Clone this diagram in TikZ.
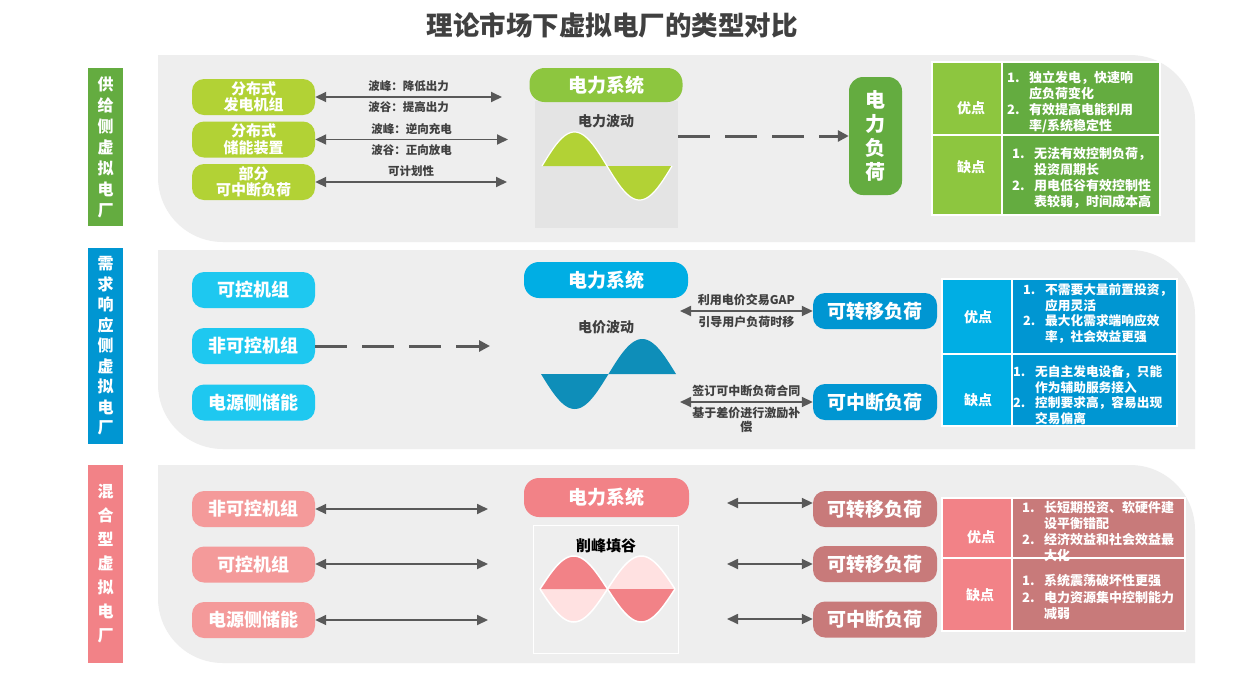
\documentclass[tikz,border=0pt]{standalone}
\usepackage{fontspec}
\setmainfont{Noto Sans CJK SC}
\usepackage{tikz}
\usetikzlibrary{arrows.meta}
\definecolor{GA}{RGB}{178,210,53}
\definecolor{GB}{RGB}{141,198,63}
\definecolor{GC}{RGB}{100,172,64}
\definecolor{BA}{RGB}{30,200,240}
\definecolor{BB}{RGB}{0,174,228}
\definecolor{BC}{RGB}{0,150,210}
\definecolor{BW}{RGB}{14,142,185}
\definecolor{PA}{RGB}{244,154,154}
\definecolor{PB}{RGB}{242,130,135}
\definecolor{PC}{RGB}{200,122,122}
\definecolor{PL}{RGB}{255,225,225}
\definecolor{panelgray}{RGB}{238,238,238}
\definecolor{boxgray}{RGB}{228,228,228}
\definecolor{arrgray}{RGB}{89,89,89}
\definecolor{txtgray}{RGB}{64,64,64}
\newcommand{\li}[1]{\makebox[22pt][l]{#1}}
\newcommand{\lii}{\hspace*{22pt}}
\newcommand{\panel}[2]{\fill[panelgray] (158,#1) -- (1130,#1) .. controls (1166,#1) and (1195,{#1+29}) .. (1195,{#1+65}) -- (1195,#2) -- (223,#2) .. controls (187,#2) and (158,{#2-29}) .. (158,{#2-65}) -- cycle;}
\newcommand{\sinefill}[5]{\fill[#5] (#1,#3) -- plot[domain=0:360,samples=73] ({#1+\x/360*#2},{#3-(#4)*sin(\x)}) -- cycle;}
\newcommand{\sinedraw}[5]{\draw[#5] plot[domain=0:360,samples=73] ({#1+\x/360*#2},{#3-(#4)*sin(\x)});}

\begin{document}
\begin{tikzpicture}[x=1pt,y=-1pt,
  pill/.style={rounded corners=12pt,minimum width=123pt,minimum height=36pt,inner sep=0pt,align=center,text=white,font=\bfseries\fontsize{18}{20}\selectfont},
  pillsm/.style={pill,font=\bfseries\fontsize{15}{16.5}\selectfont},
  loadpill/.style={pill,minimum width=124pt,font=\bfseries\fontsize{19}{21}\selectfont},
  sys/.style={rounded corners=15pt,minimum height=36pt,inner sep=0pt,text=white,font=\bfseries\fontsize{19}{21}\selectfont},
  sidebar/.style={minimum width=35pt,inner sep=0pt,align=center,text=white,font=\bfseries\fontsize{16}{21}\selectfont},
  lbl/.style={text=txtgray,font=\bfseries\fontsize{11.5}{14}\selectfont,inner sep=4pt},
  wavelbl/.style={text=txtgray,font=\bfseries\fontsize{14}{16}\selectfont},
  dblarr/.style={<->,>={Triangle[length=11pt,width=10pt]},line width=1.8pt,draw=arrgray},
  dasharr/.style={->,>={Triangle[length=11pt,width=11pt]},line width=3pt,draw=arrgray,dash pattern=on 32pt off 15pt},
  cell/.style={draw=white,line width=1.5pt},
  head/.style={text=white,font=\bfseries\fontsize{14}{16}\selectfont},
  items/.style={anchor=west,align=left,inner sep=0pt,text=white,font=\bfseries\fontsize{13}{16}\selectfont}]
\useasboundingbox (0,0) rectangle (1236,673);
\fill[white] (0,0) rectangle (1236,673);
\node[text=txtgray,font=\bfseries\fontsize{26.5}{30}\selectfont] (title) at (612,25) {理论市场下虚拟电厂的类型对比};
\panel{55}{242}
\panel{250}{449}
\panel{465}{663}
\node[sidebar,fill=GC,minimum height=158pt] (supply) at (105.5,147) {供\\给\\侧\\虚\\拟\\电\\厂};
\node[sidebar,fill=BC,minimum height=196pt,font=\bfseries\fontsize{16}{20.5}\selectfont] (demand) at (105.5,346) {需\\求\\响\\应\\侧\\虚\\拟\\电\\厂};
\node[sidebar,fill=PB,minimum height=198pt,font=\bfseries\fontsize{16}{24}\selectfont] (mixed) at (105.5,564) {混\\合\\型\\虚\\拟\\电\\厂};

\node[pillsm,fill=GA] (dgen) at (253.5,97) {分布式\\发电机组};
\node[pillsm,fill=GA] (dsto) at (253.5,139.5) {分布式\\储能装置};
\node[pillsm,fill=GA] (dcut) at (253.5,182) {部分\\可中断负荷};
\coordinate (dgenR) at (502,97);
\coordinate (dstoR) at (508,139.5);
\coordinate (dcutR) at (507,182);
\draw[dblarr] (dgen) -- node[lbl,above]{波峰：降低出力} node[lbl,below]{波谷：提高出力} (dgenR);
\draw[dblarr] (dsto) -- node[lbl,above]{波峰：逆向充电} node[lbl,below]{波谷：正向放电} (dstoR);
\draw[dblarr] (dcut) -- node[lbl,above]{可计划性} (dcutR);
\node[fill=boxgray,minimum width=143pt,minimum height=127pt,inner sep=0pt] (wave1) at (606.5,164.5) {};
\node[sys,fill=GB,minimum width=153pt,minimum height=34pt] (sys1) at (606,85) {电力系统};
\node[wavelbl] (wl1) at (606,121) {电力波动};
\sinefill{542}{130}{166}{34}{GA}
\sinedraw{542}{130}{166}{34}{white,line width=1.2pt}
\node[rounded corners=14pt,fill=GC,minimum width=53pt,minimum height=118pt,inner sep=0pt,align=center,text=white,font=\bfseries\fontsize{20}{24}\selectfont] (load1) at (875.5,136) {电\\力\\负\\荷};
\draw[dasharr] (wave1.east |- load1) -- (load1);
\draw[cell,fill=GB] (932,62) rectangle (1002,135);
\draw[cell,fill=GB] (932,135) rectangle (1002,215);
\draw[cell,fill=GC] (1002,62) rectangle (1160,135);
\draw[cell,fill=GC] (1002,135) rectangle (1160,215);
\node[head] (pro1) at (971,108) {优点};
\node[head] (con1) at (971,167) {缺点};
\node[items] (pro1t) at (1007,102.5) {\li{1.}独立发电，快速响\\\lii 应负荷变化\\\li{2.}有效提高电能利用\\\lii 率/系统稳定性};
\node[items] (con1t) at (1012,178) {\li{1.}无法有效控制负荷，\\\lii 投资周期长\\\li{2.}用电低谷有效控制性\\\lii 表较弱，时间成本高};

\node[pill,fill=BA] (ctrl2) at (253.5,290) {可控机组};
\node[pill,fill=BA] (unctrl2) at (253.5,346) {非可控机组};
\node[pill,fill=BA] (store2) at (253.5,402.5) {电源侧储能};
\coordinate (unctrl2R) at (490,346);
\draw[dasharr] (unctrl2) -- (unctrl2R);
\node[sys,fill=BB,minimum width=164pt] (sys2) at (606,280) {电力系统};
\node[wavelbl] (wl2) at (606,327) {电价波动};
\sinefill{541}{135}{374}{-35}{BW}
\node[loadpill,fill=BC] (shift2) at (875,311) {可转移负荷};
\node[loadpill,fill=BC] (cut2) at (875,402) {可中断负荷};
\coordinate (shift2L) at (680,311);
\coordinate (cut2L) at (680,402);
\draw[dblarr] (shift2L) -- node[lbl,above,font=\bfseries\fontsize{12}{14}\selectfont]{利用电价交易GAP} node[lbl,below,font=\bfseries\fontsize{12}{14}\selectfont]{引导用户负荷时移} (shift2);
\draw[dblarr] (cut2L) -- node[lbl,above,font=\bfseries\fontsize{12}{14}\selectfont]{签订可中断负荷合同} node[lbl,below,align=center,font=\bfseries\fontsize{12}{14}\selectfont]{基于差价进行激励补\\偿} (cut2);
\draw[cell,fill=BB] (942,279) rectangle (1012,354);
\draw[cell,fill=BB] (942,354) rectangle (1012,426);
\draw[cell,fill=BC] (1012,279) rectangle (1177,354);
\draw[cell,fill=BC] (1012,354) rectangle (1177,426);
\node[head] (pro2) at (978,317) {优点};
\node[head] (con2) at (978,400) {缺点};
\node[items,font=\bfseries\fontsize{12.7}{15.5}\selectfont] (pro2t) at (1023,313.5) {\li{1.}不需要大量前置投资，\\\lii 应用灵活\\\li{2.}最大化需求端响应效\\\lii 率，社会效益更强};
\node[items,font=\bfseries\fontsize{12.7}{15.5}\selectfont] (con2t) at (1013,395) {\li{1.}无自主发电设备，只能\\\lii 作为辅助服务接入\\\li{2.}控制要求高，容易出现\\\lii 交易偏离};

\node[pill,fill=PA] (unctrl3) at (253.5,509) {非可控机组};
\node[pill,fill=PA] (ctrl3) at (253.5,564.5) {可控机组};
\node[pill,fill=PA] (store3) at (253.5,620) {电源侧储能};
\coordinate (unctrl3R) at (488,509);
\coordinate (ctrl3R) at (488,564);
\coordinate (store3R) at (488,620);
\draw[dblarr] (unctrl3) -- (unctrl3R);
\draw[dblarr] (ctrl3.east |- ctrl3R) -- (ctrl3R);
\draw[dblarr] (store3) -- (store3R);
\node[sys,fill=PB,minimum width=165pt,minimum height=39pt] (sys3) at (606.5,497.5) {电力系统};
\node[draw=white,line width=1pt,minimum width=145pt,minimum height=128pt,inner sep=0pt] (wave3) at (605.5,589) {};
\node[font=\bfseries\fontsize{15}{17}\selectfont] (wl3) at (606,546) {削峰填谷};
\sinefill{540}{135}{589}{-33}{PL}
\sinefill{540}{135}{589}{33}{PB}
\sinedraw{540}{135}{589}{-33}{white,line width=1.5pt}
\sinedraw{540}{135}{589}{33}{white,line width=1.5pt}
\node[loadpill,fill=PC] (shift3a) at (875,509) {可转移负荷};
\node[loadpill,fill=PC] (shift3b) at (875,564) {可转移负荷};
\node[loadpill,fill=PC] (cut3) at (875,619.5) {可中断负荷};
\coordinate (shift3aL) at (727,503);
\coordinate (shift3bL) at (727,564);
\coordinate (cut3L) at (727,619);
\draw[dblarr] (shift3aL) -- (shift3aL -| shift3a.west);
\draw[dblarr] (shift3bL) -- (shift3b);
\draw[dblarr] (cut3L) -- (cut3L -| cut3.west);
\draw[cell,fill=PB] (942,498) rectangle (1012,558);
\draw[cell,fill=PB] (942,558) rectangle (1012,631);
\draw[cell,fill=PC] (1012,498) rectangle (1185,558);
\draw[cell,fill=PC] (1012,558) rectangle (1185,631);
\node[head] (pro3) at (981,537) {优点};
\node[head] (con3) at (980,595) {缺点};
\node[items,font=\bfseries\fontsize{13}{15.7}\selectfont] (pro3t) at (1022,531.5) {\li{1.}长短期投资、软硬件建\\\lii 设平衡错配\\\li{2.}经济效益和社会效益最\\\lii 大化};
\node[items,font=\bfseries\fontsize{13}{16.5}\selectfont] (con3t) at (1022,597) {\li{1.}系统震荡破坏性更强\\\li{2.}电力资源集中控制能力\\\lii 减弱};
\end{tikzpicture}
\end{document}
